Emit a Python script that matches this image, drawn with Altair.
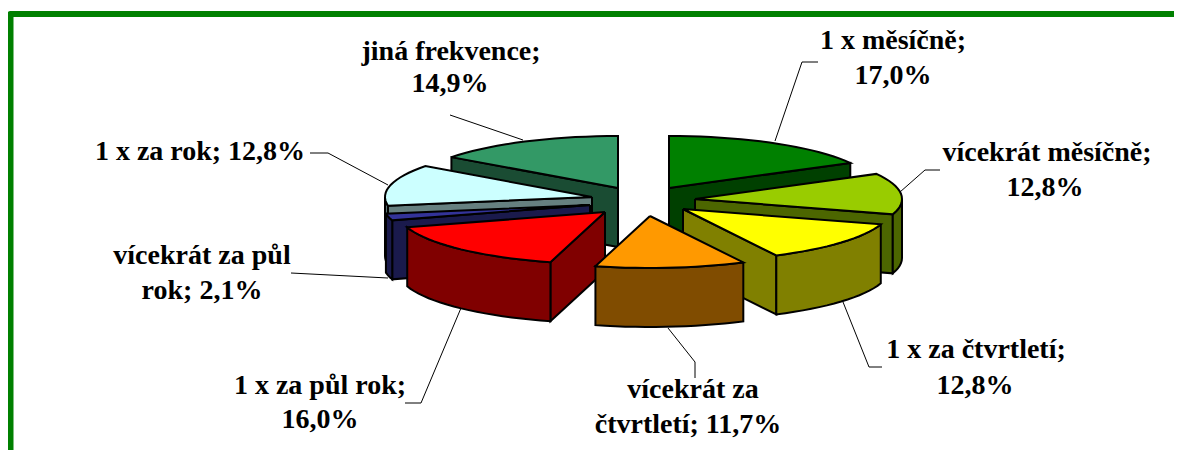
import math
import altair as alt
import pandas as pd

categories = ["1 x měsíčně", "vícekrát měsíčně", "1 x za čtvrtletí", "vícekrát za čtvrtletí",
              "1 x za půl rok", "vícekrát za půl rok", "1 x za rok", "jiná frekvence"]
shares = [17.0, 12.8, 12.8, 11.7, 16.0, 2.1, 12.8, 14.9]
top_colors = ["#008000", "#99CC00", "#FFFF00", "#FF9900", "#FF0000", "#333399", "#CCFFFF", "#339966"]
side_colors = ["#004000", "#4C6600", "#808000", "#804C00", "#800000", "#1A1A4C", "#668080", "#1A4C33"]
apexes = [(669, 188), (695, 199), (683, 209), (650, 216), (605, 212), (590, 205), (592, 197), (618, 188)]
draw_order = [7, 0, 6, 1, 5, 2, 4, 3]

RX, RY, DEPTH = 207, 52, 59

label_lines = [
    ("jiná frekvence;", 451, 60), ("14,9%", 450, 92),
    ("1 x měsíčně;", 893, 49), ("17,0%", 893, 84),
    ("vícekrát měsíčně;", 1047, 161), ("12,8%", 1045, 196),
    ("1 x za čtvrtletí;", 976, 358), ("12,8%", 975, 394),
    ("vícekrát za", 693, 398), ("čtvrtletí; 11,7%", 688, 433),
    ("1 x za půl rok;", 320, 394), ("16,0%", 320, 428),
    ("vícekrát za půl", 202, 264), ("rok; 2,1%", 202, 299),
    ("1 x za rok; 12,8%", 200, 160),
]
leaders = [
    [(450, 115), (523, 140)],
    [(775, 141), (802, 62), (818, 62)],
    [(900, 192), (925, 170), (940, 170)],
    [(843, 302), (869, 367), (882, 367)],
    [(668, 328), (695, 362), (695, 378)],
    [(461, 308), (421, 403), (405, 403)],
    [(291, 273), (388, 278)],
    [(310, 153), (328, 153), (388, 185)],
]
frame = [(10.5, 458), (10.5, 14), (1182, 14)]

total = sum(shares)
edges = [0.0]
for s in shares:
    edges.append(edges[-1] + s / total * 360)


def rim(apex, a):
    r = math.radians(a)
    return (apex[0] + RX * math.sin(r), apex[1] - RY * math.cos(r))


def arc_points(apex, a0, a1):
    n = max(2, int(abs(a1 - a0) / 3) + 2)
    return [rim(apex, a0 + (a1 - a0) * k / (n - 1)) for k in range(n)]


rows = []
seq = 0


def add(name, pts, color):
    global seq
    for p in pts + [pts[0]]:
        rows.append({"poly": name, "x": p[0], "y": p[1], "fill": color, "seq": seq})
        seq += 1


for i in draw_order:
    a0, a1 = edges[i], edges[i + 1]
    ap = apexes[i]
    down = lambda p: (p[0], p[1] + DEPTH)
    if math.sin(math.radians(a0)) < 0:
        s = rim(ap, a0)
        add(f"{i:02d}a", [ap, s, down(s), down(ap)], side_colors[i])
    if math.sin(math.radians(a1)) > 0:
        e = rim(ap, a1)
        add(f"{i:02d}b", [ap, e, down(e), down(ap)], side_colors[i])
    lo, hi = max(a0, 90), min(a1, 270)
    if lo < hi:
        arc = arc_points(ap, lo, hi)
        add(f"{i:02d}c", arc + [down(p) for p in reversed(arc)], side_colors[i])
    add(f"{i:02d}d", [ap] + arc_points(ap, a0, a1), top_colors[i])

x_scale = alt.Scale(domain=[8, 1174], nice=False, zero=False)
y_scale = alt.Scale(domain=[450, 8], nice=False, zero=False)
X = alt.X("x:Q", scale=x_scale, axis=None)
Y = alt.Y("y:Q", scale=y_scale, axis=None)

slices = alt.Chart(pd.DataFrame(rows)).mark_line(
    filled=True, stroke="black", strokeWidth=2, strokeJoin="miter", clip=False, interpolate="linear"
).encode(x=X, y=Y, detail="poly:N", order="seq:Q", color=alt.Color("fill:N", scale=None, legend=None))

lead_rows = [{"id": i, "x": p[0], "y": p[1], "seq": k} for i, l in enumerate(leaders) for k, p in enumerate(l)]
lead = alt.Chart(pd.DataFrame(lead_rows)).mark_line(color="black", strokeWidth=1).encode(
    x=X, y=Y, detail="id:N", order="seq:Q")

frame_df = pd.DataFrame([{"x": p[0], "y": p[1], "seq": k} for k, p in enumerate(frame)])
border = alt.Chart(frame_df).mark_line(color="#008000", strokeWidth=6, strokeJoin="round", clip=True).encode(
    x=X, y=Y, order="seq:Q")

text_df = pd.DataFrame([{"t": t, "x": x, "y": y} for t, x, y in label_lines])
texts = alt.Chart(text_df).mark_text(
    font="Liberation Serif", fontWeight="bold", fontSize=28, color="black", align="center", baseline="alphabetic"
).encode(x=X, y=Y, text="t:N")

chart = alt.layer(border, lead, slices, texts).properties(
    width=1166, height=442, padding=0, autosize=alt.AutoSizeParams(type="none"), background="white"
).configure_view(stroke=None)

chart.save("out.html", embed_options={"renderer": "svg", "actions": False})
